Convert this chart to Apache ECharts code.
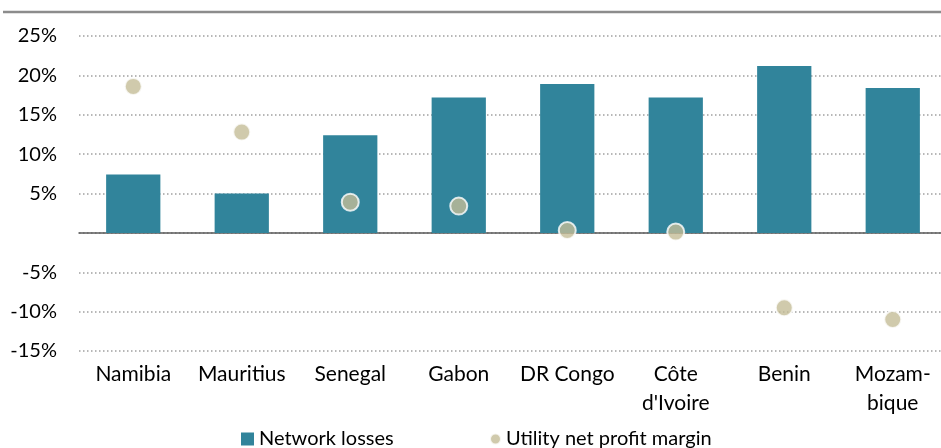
<!DOCTYPE html>
<html>
<head>
<meta charset="utf-8">
<script src="https://cdn.jsdelivr.net/npm/echarts@6/dist/echarts.min.js"></script>
<style>
	html, body { margin: 0; padding: 0; background: #fff; }
	#chart { width: 941px; height: 448px; }
</style>
</head>
<body>
<div id="chart"></div>
<script>
	// categories + values
	var countries = ['Namibia', 'Mauritius', 'Senegal', 'Gabon', 'DR Congo', 'Côte\nd\'Ivoire', 'Benin', 'Mozam-\nbique']
	var networkLosses = [7.4, 5.0, 12.4, 17.2, 18.9, 17.2, 21.2, 18.4]
	var profitMargin = [18.6, 12.8, 3.9, 3.4, 0.3, 0.1, -9.5, -11.0]
	var yTicks = { min: -15, max: 25, step: 5 }

	var FONT = 'Lato'
	var TEAL = '#31849b'
	var SAND = '#c4bd97'

	var chart_option = {
		animation: false,
		textStyle: { fontFamily: FONT },
		grid: {
			left: 79,
			right: -6,
			top: 36,
			bottom: 97,
			outerBoundsMode: 'none'
		},
		// thin grey rule at the very top
		graphic: [
			{
				type: 'line',
				shape: { x1: 3, y1: 12, x2: 941, y2: 12 },
				style: { stroke: '#8c8c8c', lineWidth: 2.5 }
			}
		],
		legend: [
			{
				data: [{ name: 'Network losses', icon: 'rect' }],
				left: 236,
				top: 424,
				itemWidth: 13,
				itemHeight: 13,
				itemGap: 5,
				textStyle: { fontFamily: FONT, fontSize: 20, color: '#000' }
			},
			{
				data: [{ name: 'Utility net profit margin', icon: 'circle' }],
				left: 484,
				top: 424,
				itemWidth: 11,
				itemHeight: 11,
				textStyle: { fontFamily: FONT, fontSize: 20, color: '#000' }
			}
		],
		xAxis: [
			{
				// labels along the bottom of the plot
				type: 'category',
				data: countries,
				position: 'bottom',
				axisTick: { show: false },
				axisLine: { show: false, onZero: false },
				axisLabel: {
					interval: 0,
					color: '#000',
					fontSize: 21,
					fontFamily: FONT,
					lineHeight: 29,
					margin: 9
				}
			},
			{
				// the zero line
				type: 'category',
				data: countries,
				position: 'top',
				axisTick: { show: false },
				axisLabel: { show: false },
				axisLine: {
					onZero: true,
					lineStyle: { color: '#595959', width: 1.5 }
				}
			}
		],
		yAxis: {
			type: 'value',
			min: yTicks.min,
			max: yTicks.max,
			interval: yTicks.step,
			axisLine: { show: false },
			axisTick: { show: false },
			axisLabel: {
				color: '#000',
				fontSize: 20,
				fontFamily: FONT,
				margin: 22,
				formatter: function (v) {
					return v === 0 ? '' : v + '%'
				}
			},
			splitLine: {
				show: true,
				lineStyle: { color: '#a0a0a0', width: 1.5, type: [1.5, 2.5] }
			}
		},
		series: [
			{
				name: 'Network losses',
				type: 'bar',
				data: networkLosses,
				barWidth: '50%',
				itemStyle: { color: TEAL }
			},
			{
				name: 'Utility net profit margin',
				type: 'scatter',
				data: profitMargin,
				symbol: 'circle',
				symbolSize: 17,
				z: 5,
				itemStyle: {
					color: SAND,
					borderColor: '#fff',
					borderWidth: 2
				}
			}
		]
	}

	var myChart = echarts.init(document.getElementById('chart'))
	myChart.setOption(chart_option, true)
</script>
</body>
</html>
